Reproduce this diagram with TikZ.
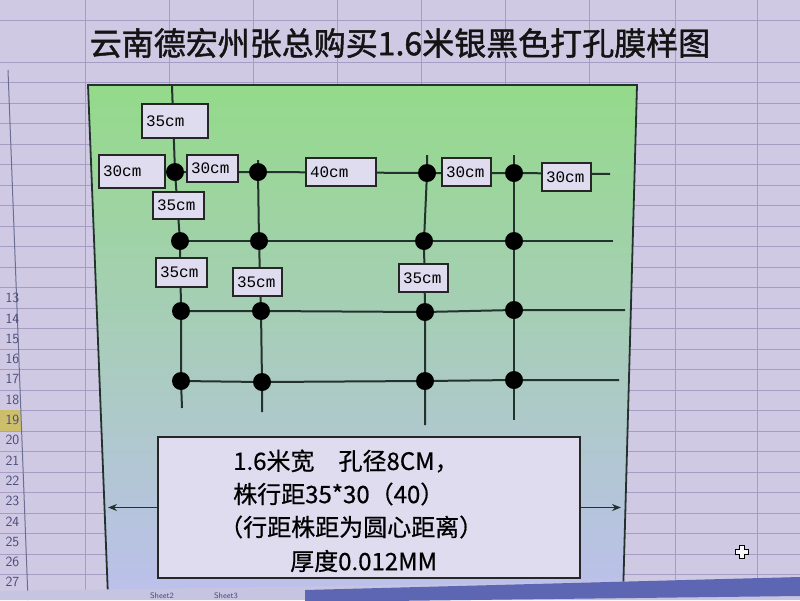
\documentclass[tikz,border=0pt]{standalone}
\usepackage{fontspec}
\setmainfont{Liberation Sans}
\newfontfamily\cjk[FakeBold=0.6]{Noto Sans CJK SC}
\newfontfamily\cjktitle[FakeBold=1.4]{Noto Sans CJK SC}
\newfontfamily\lblfont{Liberation Mono}
\usetikzlibrary{arrows.meta,calc}
\definecolor{bgsheet}{RGB}{208,201,228}
\definecolor{gridc}{RGB}{165,157,195}
\definecolor{boxfill}{RGB}{224,220,240}
\definecolor{linec}{RGB}{35,50,45}
\definecolor{greentop}{RGB}{148,218,138}
\definecolor{greenmid}{RGB}{150,208,200}
\definecolor{bluebot}{RGB}{188,192,236}
\definecolor{tabblue}{RGB}{92,102,178}
\definecolor{tabstrip}{RGB}{198,196,224}
\definecolor{rowyellow}{RGB}{205,190,110}
\definecolor{rownum}{RGB}{70,75,120}
\begin{document}
\begin{tikzpicture}[x=1pt,y=-1pt,
  gridline/.style={draw=gridc,line width=0.8pt},
  holeline/.style={draw=linec,line width=2pt},
  hole/.style={circle,fill=black,minimum size=18pt,inner sep=0pt},
  lbl/.style={draw=black!85,fill=boxfill,line width=1.3pt,inner xsep=4pt,inner ysep=0pt,
    align=left,font=\lblfont\fontsize{16}{18}\selectfont},
  infobox/.style={draw=black!85,fill=boxfill,line width=1.5pt,minimum width=422pt,minimum height=141pt},
  infotext/.style={anchor=west,inner sep=0pt,font=\cjk\fontsize{24}{28}\selectfont},
  arr/.style={draw=linec,line width=1.3pt,-{Stealth[length=9pt,width=7pt]}},
  rowno/.style={anchor=east,inner sep=0pt,text=rownum,font=\sffamily\fontsize{14}{16}\selectfont},
  tabtext/.style={inner sep=0pt,text=rownum,font=\sffamily\fontsize{8}{9}\selectfont}]
\useasboundingbox (0,0) rectangle (800,600);
\clip (0,0) rectangle (800,600);
% spreadsheet background
\fill[bgsheet] (0,0) rectangle (800,600);
\draw[gridline] (0,20) -- (800,20);
\foreach \k in {0,...,26} {\draw[gridline] (0,{62+20.5*\k}) -- (800,{62+20.5*\k});}
\foreach \x in {85,169,253,337,421,505,589,675,757} {\draw[gridline] (\x,0) -- (\x,600);}
% row header
\fill[rowyellow] (0,410) -- (20.5,410) -- (21.5,431) -- (0,431) -- cycle;
\draw[draw=rownum!80,line width=1pt] (8,70) -- (28,600);
\foreach \n [count=\i from 0] in {13,...,27} {
  \pgfmathsetmacro\yy{298+20.3*\i}
  \node[rowno] (rn\n) at (19.5,\yy) {\n};
}
% title
\node[font=\cjktitle\fontsize{32}{36}\selectfont,text=black!92] (title) at (400,43) {云南德宏州张总购买1.6米银黑色打孔膜样图};
% panel
\shade[top color=greentop,middle color=greenmid,bottom color=bluebot] (88,85) -- (637,85) -- (623,597) -- (108,597) -- cycle;
\draw[draw=linec,line width=1.8pt] (88,85) -- (637,85) -- (623,597) -- (108,597) -- cycle;
% hole positions
\coordinate (p11) at (175,172); \coordinate (p12) at (258,172); \coordinate (p13) at (427,173); \coordinate (p14) at (514,173);
\coordinate (p21) at (180,241); \coordinate (p22) at (259,241); \coordinate (p23) at (424,241); \coordinate (p24) at (514,241);
\coordinate (p31) at (181,311); \coordinate (p32) at (261,311); \coordinate (p33) at (425,312); \coordinate (p34) at (514,310);
\coordinate (p41) at (181,381); \coordinate (p42) at (262,382); \coordinate (p43) at (425,381); \coordinate (p44) at (514,380);
% line ends
\coordinate (c1t) at (172,86);  \coordinate (c1b) at (182,408);
\coordinate (c2t) at (258,160); \coordinate (c2b) at (262,412);
\coordinate (c3t) at (427,155); \coordinate (c3b) at (425,425);
\coordinate (c4t) at (514,155); \coordinate (c4b) at (514,420);
\coordinate (r1l) at (160,172); \coordinate (r1r) at (610,174);
\coordinate (r2r) at (613,241);
\coordinate (r3r) at (625,310);
\coordinate (r4r) at (619,380);
% lines
\draw[holeline] (c1t) -- (p11) -- (p21) -- (p31) -- (p41) -- (c1b);
\draw[holeline] (c2t) -- (p12) -- (p22) -- (p32) -- (p42) -- (c2b);
\draw[holeline] (c3t) -- (p13) -- (p23) -- (p33) -- (p43) -- (c3b);
\draw[holeline] (c4t) -- (p14) -- (p24) -- (p34) -- (p44) -- (c4b);
\draw[holeline] (r1l) -- (p11) -- (p12) -- (p13) -- (p14) -- (r1r);
\draw[holeline] (p21) -- (p22) -- (p23) -- (p24) -- (r2r);
\draw[holeline] (p31) -- (p32) -- (p33) -- (p34) -- (r3r);
\draw[holeline] (p41) -- (p42) -- (p43) -- (p44) -- (r4r);
% labels
\node[lbl,text width=58pt,minimum height=34pt] (b1) at (175,121) {35cm};
\node[lbl,text width=58pt,minimum height=33pt] (b2) at (132,171.5) {30cm};
\node[lbl,text width=43pt,minimum height=27pt] (b3) at (212.5,168.5) {30cm};
\node[lbl,text width=62pt,minimum height=28pt] (b4) at (341,172) {40cm};
\node[lbl,text width=43pt,minimum height=27pt] (b5) at (178.5,205.5) {35cm};
\node[lbl,text width=43pt,minimum height=29pt] (b6) at (181.5,272.5) {35cm};
\node[lbl,text width=41pt,minimum height=28pt] (b7) at (257.5,282) {35cm};
\node[lbl,text width=41pt,minimum height=28pt] (b8) at (466.5,172) {30cm};
\node[lbl,text width=41pt,minimum height=28pt] (b9) at (566.5,177) {30cm};
\node[lbl,text width=41pt,minimum height=28pt] (b10) at (423.5,278) {35cm};
% holes
\foreach \r in {1,2,3,4} {\foreach \c in {1,2,3,4} {\node[hole] (d\r\c) at (p\r\c) {};}}
% info box
\node[infobox] (info) at (369,507.5) {};
\node[infotext] (t1) at (233,461) {1.6米宽　孔径8CM，};
\node[infotext] (t2) at (233,494) {株行距35*30（40）};
\node[infotext] (t3) at (219,527) {（行距株距为圆心距离）};
\node[infotext] (t4) at (290,561) {厚度0.012MM};
\coordinate (al) at (108,507.5);
\coordinate (ar) at (621,507.5);
\draw[arr] (info.west) -- (al);
\draw[arr] (info.east) -- (ar);
% bottom tab bar
\fill[tabstrip] (0,591) -- (800,579) -- (800,600) -- (0,600) -- cycle;
\fill[tabblue] (305,590) -- (800,577) -- (800,596) -- (305,602) -- cycle;
\node[tabtext] (s2) at (162,595.5) {Sheet2};
\node[tabtext] (s3) at (226,595.5) {Sheet3};
% cursor
\draw[black,line width=1.2pt,fill=white!85!bgsheet] (739.5,545.5) -- (744.5,545.5) -- (744.5,549.5) -- (748.5,549.5) -- (748.5,554.5) -- (744.5,554.5) -- (744.5,558.5) -- (739.5,558.5) -- (739.5,554.5) -- (735.5,554.5) -- (735.5,549.5) -- (739.5,549.5) -- cycle;
\end{tikzpicture}
\end{document}
